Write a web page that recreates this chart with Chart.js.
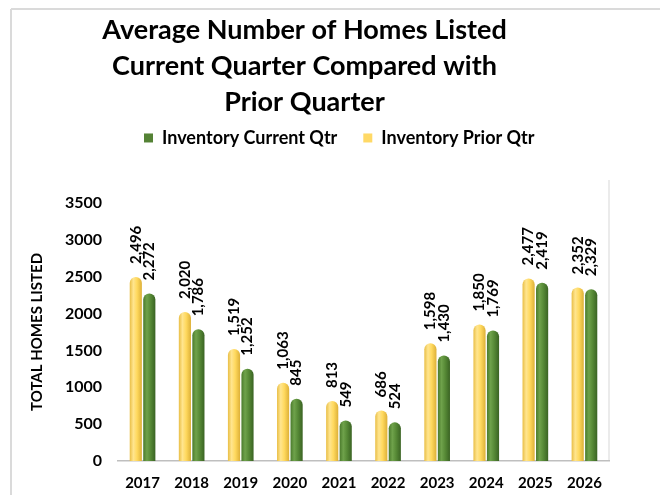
<!DOCTYPE html>
<html>
<head>
<meta charset="utf-8">
<script src="https://cdn.jsdelivr.net/npm/chart.js@4/dist/chart.umd.min.js"></script>
<style>
  html, body { margin: 0; padding: 0; background: #ffffff; }
  #wrap { width: 660px; height: 495px; position: relative; }
</style>
</head>
<body>
<div id="wrap"><canvas id="c" width="660" height="495"></canvas></div>
<script>
// ---- data ----
const categories = ['2017', '2018', '2019', '2020', '2021', '2022', '2023', '2024', '2025', '2026'];
const priorQtr   = [2496, 2020, 1519, 1063, 813, 686, 1598, 1850, 2477, 2352];
const currentQtr = [2272, 1786, 1252, 845, 549, 524, 1430, 1769, 2419, 2329];
const yTickValues = [0, 500, 1000, 1500, 2000, 2500, 3000, 3500];
const titleLines = ['Average Number of Homes Listed', 'Current Quarter Compared with', 'Prior Quarter'];
const seriesNames = ['Inventory Prior Qtr', 'Inventory Current Qtr'];
const yAxisTitle = 'TOTAL HOMES LISTED';

const FONT = "Lato, 'Open Sans', sans-serif";
Chart.defaults.font.family = FONT;
Chart.defaults.color = '#000000';

const yellowStops = ['#E9BE45', '#FFE58F', '#FFD95E', '#DDB038'];
const greenStops  = ['#4A7A2C', '#6FA24B', '#578A36', '#3A6323'];

// frame lines
const framePlugin = {
  id: 'frame',
  beforeDraw(chart) {
    const ctx = chart.ctx;
    ctx.save();
    ctx.fillStyle = '#ffffff';
    ctx.fillRect(0, 0, chart.width, chart.height);
    ctx.strokeStyle = '#DADADA';
    ctx.lineWidth = 2;
    ctx.beginPath();
    ctx.moveTo(11, 9); ctx.lineTo(chart.width, 9);
    ctx.moveTo(11, 9); ctx.lineTo(11, chart.height);
    ctx.stroke();
    const a = chart.chartArea;
    ctx.strokeStyle = '#E4E4E4';
    ctx.lineWidth = 1.5;
    ctx.beginPath();
    ctx.moveTo(a.right, a.top - 23); ctx.lineTo(a.right, a.bottom);
    ctx.stroke();
    ctx.restore();
  }
};

// cylinder-like gradient per bar
const gradientPlugin = {
  id: 'barGradient',
  beforeDatasetsDraw(chart) {
    const ctx = chart.ctx;
    chart.data.datasets.forEach((ds, di) => {
      const meta = chart.getDatasetMeta(di);
      const stops = di === 0 ? yellowStops : greenStops;
      meta.data.forEach(bar => {
        const x0 = bar.x - bar.width / 2, x1 = bar.x + bar.width / 2;
        const g = ctx.createLinearGradient(x0, 0, x1, 0);
        g.addColorStop(0, stops[0]);
        g.addColorStop(0.3, stops[1]);
        g.addColorStop(0.6, stops[2]);
        g.addColorStop(1, stops[3]);
        bar.options.backgroundColor = g;
      });
    });
  }
};

// rotated value labels
const valueLabels = {
  id: 'valueLabels',
  afterDatasetsDraw(chart) {
    const ctx = chart.ctx;
    ctx.save();
    ctx.font = 'bold 15px ' + FONT;
    ctx.fillStyle = '#000000';
    ctx.textAlign = 'left';
    ctx.textBaseline = 'middle';
    chart.data.datasets.forEach((ds, di) => {
      const meta = chart.getDatasetMeta(di);
      meta.data.forEach((bar, i) => {
        ctx.save();
        ctx.translate(bar.x, bar.y - 13);
        ctx.rotate(-Math.PI / 2);
        ctx.fillText(ds.data[i].toLocaleString('en-US'), 0, 0);
        ctx.restore();
      });
    });
    ctx.restore();
  }
};

new Chart(document.getElementById('c'), {
  type: 'bar',
  data: {
    labels: categories,
    datasets: [
      {
        label: seriesNames[0],
        data: priorQtr,
        backgroundColor: () => '#FFD966',
        borderRadius: { topLeft: 6, topRight: 6, bottomLeft: 0, bottomRight: 0 },
        borderSkipped: 'start',
        categoryPercentage: 0.55,
        barPercentage: 0.9
      },
      {
        label: seriesNames[1],
        data: currentQtr,
        backgroundColor: () => '#548235',
        borderRadius: { topLeft: 6, topRight: 6, bottomLeft: 0, bottomRight: 0 },
        borderSkipped: 'start',
        categoryPercentage: 0.55,
        barPercentage: 0.9
      }
    ]
  },
  options: {
    responsive: false,
    animation: false,
    layout: { padding: { left: 0, right: 51, top: 0, bottom: 3 } },
    plugins: {
      title: {
        display: true,
        text: titleLines,
        color: '#000000',
        font: { size: 27, weight: 'bold', lineHeight: 1.333 },
        padding: { top: 12, bottom: -17 }
      },
      legend: {
        display: true,
        position: 'top',
        fullSize: false,
        align: 'start',
        reverse: true,
        labels: {
          boxWidth: 9,
          boxHeight: 9,
          padding: 26,
          color: '#000000',
          font: { size: 18, weight: 'bold' }
        }
      },
      tooltip: { enabled: false }
    },
    scales: {
      x: {
        grid: { display: false, drawTicks: false },
        border: { display: true, color: '#BFBFBF', width: 1.5 },
        ticks: { color: '#000000', font: { size: 15, weight: 'bold' }, padding: 13 },
        afterFit: s => { s.height = 31; }
      },
      xTop: {
        type: 'category',
        labels: categories,
        position: 'top',
        grid: { display: false, drawTicks: false },
        border: { display: false },
        ticks: { display: false },
        afterFit: s => { s.height = 46; }
      },
      y: {
        min: 0,
        max: 3500,
        afterBuildTicks: s => { s.ticks = yTickValues.map(v => ({ value: v })); },
        grid: { display: false, drawTicks: false },
        border: { display: false },
        ticks: {
          color: '#000000',
          font: { size: 16, weight: 'bold' },
          padding: 16,
          callback: v => String(v)
        },
        title: {
          display: true,
          text: yAxisTitle,
          color: '#000000',
          font: { size: 15, weight: 'bold' },
          padding: { top: 28, bottom: 0 }
        },
        afterFit: s => { s.width = 118; }
      }
    }
  },
  plugins: [framePlugin, gradientPlugin, valueLabels]
});
</script>
</body>
</html>
